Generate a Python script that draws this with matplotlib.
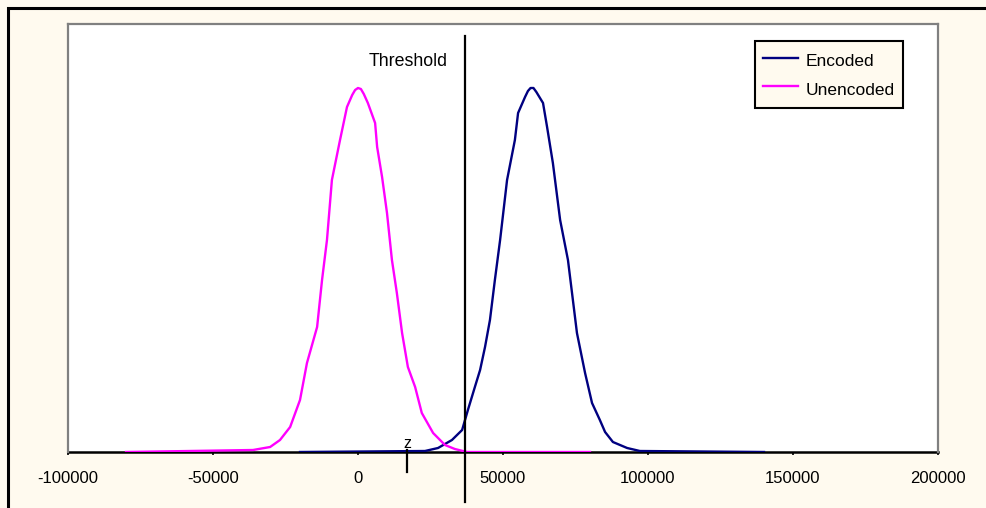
import matplotlib
matplotlib.use("Agg")
import matplotlib.pyplot as plt
from matplotlib.patches import Rectangle

# Values (heights in arbitrary count units)
unenc_x = [-80000, -36200, -30300, -26900, -23400, -20000, -17600, -14100, -12400, -10700,
           -9000, -6200, -3800, -2000, -1000, 0, 1000, 2000, 3400, 5900, 6600, 8300, 10000,
           11700, 13400, 15200, 17200, 19700, 22000, 25900, 30000, 33400, 37600, 80000]
unenc_y = [0, 2, 5, 12, 25, 52, 89, 125, 172, 212,
           272, 312, 345, 357, 362, 364, 363, 358, 349, 329, 305, 275, 239,
           192, 159, 119, 85, 65, 39, 19, 7, 3, 0, 0]

enc_x = [-20000, 23100, 27600, 32400, 35900, 37900, 40300, 42100, 43800, 45500, 47200,
         49000, 51400, 54100, 55200, 57600, 58600, 59500, 60500, 61500, 63800, 65200, 67200,
         69700, 72400, 74100, 75500, 78300, 80700, 83400, 85200, 87900, 92800, 97200, 140000]
enc_y = [0, 1, 4, 12, 22, 42, 65, 82, 105, 132, 172,
         212, 272, 312, 339, 355, 361, 364, 364, 360, 349, 325, 289,
         232, 192, 152, 119, 79, 49, 32, 20, 10, 4, 1, 0]

threshold = 37000
z_value = 17000
x_ticks = [-100000, -50000, 0, 50000, 100000, 150000, 200000]

BG = "#fffaef"
W, H = 987, 508
FONT = "Liberation Sans"

fig = plt.figure(figsize=(W / 100, H / 100), dpi=100, facecolor=BG)
ax = fig.add_axes([68 / W, (H - 452) / H, (938 - 68) / W, (452 - 24) / H])
ax.set_facecolor("white")

# outer frame of the chart (only top/left edges fall inside the image)
fig.patches.append(Rectangle((8 / W, -0.1), 1.2, (H - 8) / H + 0.1, transform=fig.transFigure,
                             fill=False, edgecolor="black", linewidth=2.2, zorder=0))

ax.plot(enc_x, enc_y, color="#000080", linewidth=1.7, label="Encoded", zorder=3)
ax.plot(unenc_x, unenc_y, color="#ff00ff", linewidth=1.7, label="Unencoded", zorder=4)

ax.set_xlim(-100000, 200000)
ax.set_ylim(0, 428)

# threshold line runs past the axis
ax.plot([threshold, threshold], [-50, 416], color="black", linewidth=1.6, clip_on=False, zorder=5)
ax.annotate("Threshold", xy=(threshold, 391), xytext=(-13, 0), textcoords="offset points",
            ha="right", va="center", fontsize=12.8, family=FONT)

# z marker
ax.plot([z_value, z_value], [2, -20], color="black", linewidth=1.6, clip_on=False, zorder=5)
ax.text(z_value, 1, "z", ha="center", va="bottom", fontsize=11.5, family=FONT)

for side in ["left", "top", "right"]:
    ax.spines[side].set_color("#808080")
    ax.spines[side].set_linewidth(1.6)
ax.spines["bottom"].set_color("black")
ax.spines["bottom"].set_linewidth(1.8)
ax.spines["bottom"].set_zorder(2)

ax.set_yticks([])
ax.set_xticks(x_ticks)
ax.set_xticklabels([str(t) for t in x_ticks], fontsize=12, family=FONT)
ax.tick_params(axis="x", direction="out", length=2.5, width=1.2, pad=11.5)

leg = ax.legend(loc="upper left", bbox_to_anchor=(755 / W, (H - 41) / H),
                bbox_transform=fig.transFigure, frameon=True, fancybox=False,
                prop={"family": FONT, "size": 12.5}, handlelength=2.0, handleheight=1.6,
                handletextpad=0.45, borderpad=0.47, labelspacing=0.36, borderaxespad=0)
leg.get_frame().set_facecolor(BG)
leg.get_frame().set_edgecolor("black")
leg.get_frame().set_linewidth(1.5)
leg.get_frame().set_alpha(1)

fig.savefig("out.png", dpi=100, facecolor=BG)
